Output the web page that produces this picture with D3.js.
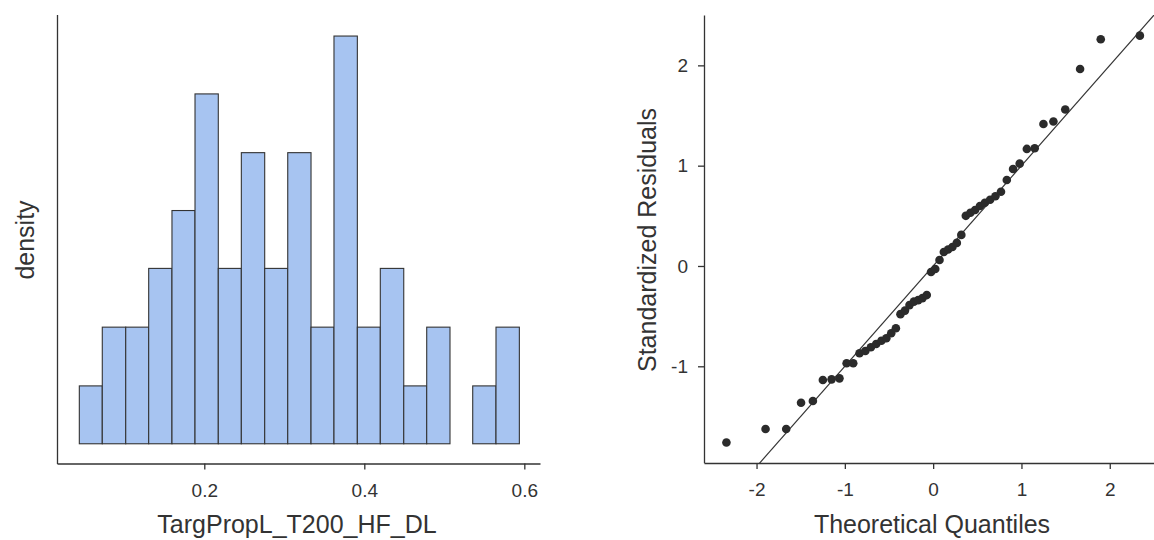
<!DOCTYPE html>
<html><head><meta charset="utf-8">
<script src="https://cdn.jsdelivr.net/npm/d3@7"></script>
<style>body{margin:0;background:#fff}svg{display:block}text{font-family:"Liberation Sans",Arial,sans-serif;fill:#333}</style>
</head><body><svg id="c" width="1154" height="540"></svg>
<script>
// Histogram data
const binEdges = [0.0438,0.0725,0.1018,0.1305,0.1596,0.1884,0.2175,0.2463,0.2755,0.3043,0.3334,0.3621,0.3913,0.4200,0.4493,0.4780,0.5071,0.5355,0.5646,0.5938];
const densities = [0.66,1.33,1.33,2.0,2.66,3.99,2.0,3.32,2.0,3.32,1.33,4.65,1.33,2.0,0.66,1.33,0,0.66,1.33];
const histTicks = [0.2,0.4,0.6];
// Q-Q data
const theoretical = [-2.341,-1.898,-1.664,-1.496,-1.362,-1.249,-1.150,-1.061,-0.980,-0.905,-0.834,-0.768,-0.705,-0.645,-0.586,-0.530,-0.475,-0.422,-0.370,-0.319,-0.268,-0.218,-0.169,-0.121,-0.072,-0.024,
  0.024,0.072,0.121,0.169,0.218,0.268,0.319,0.370,0.422,0.475,0.530,0.586,0.645,0.705,0.768,0.834,0.905,0.980,1.061,1.150,1.249,1.362,1.496,1.664,1.898,2.341];
const residuals = [-1.76,-1.625,-1.625,-1.363,-1.346,-1.137,-1.13,-1.12,-0.97,-0.97,-0.87,-0.847,-0.81,-0.778,-0.745,-0.72,-0.67,-0.62,-0.48,-0.445,-0.39,-0.355,-0.34,-0.32,-0.29,
  -0.06,-0.03,0.06,0.14,0.165,0.19,0.23,0.31,0.5,0.53,0.558,0.598,0.63,0.66,0.695,0.74,0.857,0.967,1.02,1.167,1.173,1.416,1.44,1.56,1.964,2.26,2.296];
const qqTicksX = [-2,-1,0,1,2];
const qqTicksY = [-1,0,1,2];

const svg = d3.select("#c");
const ink = "#333";
const fmt = d => String(d);

// ---- Histogram ----
const hx = d3.scaleLinear().domain([0.0159,0.6196]).range([57,540]);
const hy = d3.scaleLinear().domain([-0.225,4.89]).range([463.5,15]);
const bins = densities.map((d,i)=>({x0:binEdges[i],x1:binEdges[i+1],d}));
svg.append("g").selectAll("rect").data(bins).join("rect")
  .attr("x",b=>hx(b.x0)).attr("width",b=>hx(b.x1)-hx(b.x0))
  .attr("y",b=>hy(b.d)).attr("height",b=>hy(0)-hy(b.d))
  .attr("fill","#a7c4f1").attr("stroke",ink).attr("stroke-width",1.1);
svg.append("g").attr("transform","translate(0,463.5)")
  .call(d3.axisBottom(hx).tickValues(histTicks).tickFormat(d3.format(".1f")).tickSizeOuter(0).tickSizeInner(6).tickPadding(14));
svg.append("line").attr("x1",57.5).attr("x2",57.5).attr("y1",15).attr("y2",464).attr("stroke",ink).attr("stroke-width",1.3);
svg.append("text").attr("x",297).attr("y",533).attr("text-anchor","middle").attr("font-size",25).text("TargPropL_T200_HF_DL");
svg.append("text").attr("transform","translate(34,240) rotate(-90)").attr("text-anchor","middle").attr("font-size",25).text("density");

// ---- Q-Q plot ----
const qx = d3.scaleLinear().domain([-2.595,2.501]).range([704,1154]);
const qy = d3.scaleLinear().domain([-1.961,2.502]).range([462.7,15]);
svg.append("defs").append("clipPath").attr("id","qc").append("rect").attr("x",704).attr("y",15).attr("width",450).attr("height",448);
svg.append("line").attr("clip-path","url(#qc)")
  .attr("x1",qx(-3)).attr("y1",qy(-3)).attr("x2",qx(3)).attr("y2",qy(3))
  .attr("stroke",ink).attr("stroke-width",1.2);
svg.append("g").selectAll("circle").data(theoretical.map((t,i)=>[t,residuals[i]])).join("circle")
  .attr("cx",d=>qx(d[0])).attr("cy",d=>qy(d[1])).attr("r",4.3).attr("fill","#2b2b2b");
svg.append("g").attr("transform","translate(0,463)")
  .call(d3.axisBottom(qx).tickValues(qqTicksX).tickFormat(fmt).tickSizeOuter(0).tickSizeInner(6).tickPadding(14));
svg.append("g").attr("transform","translate(704,0)")
  .call(d3.axisLeft(qy).tickValues(qqTicksY).tickFormat(fmt).tickSizeOuter(0).tickSizeInner(6).tickPadding(10));
svg.append("text").attr("x",932).attr("y",533).attr("text-anchor","middle").attr("font-size",25).text("Theoretical Quantiles");
svg.append("text").attr("transform","translate(656,240) rotate(-90)").attr("text-anchor","middle").attr("font-size",25).text("Standardized Residuals");

svg.selectAll(".domain").attr("stroke",ink).attr("stroke-width",1.3);
svg.selectAll(".tick line").attr("stroke",ink).attr("stroke-width",1.3);
svg.selectAll(".tick text").attr("font-size",19).attr("fill",ink).attr("font-family","Liberation Sans, Arial, sans-serif");
</script></body></html>
